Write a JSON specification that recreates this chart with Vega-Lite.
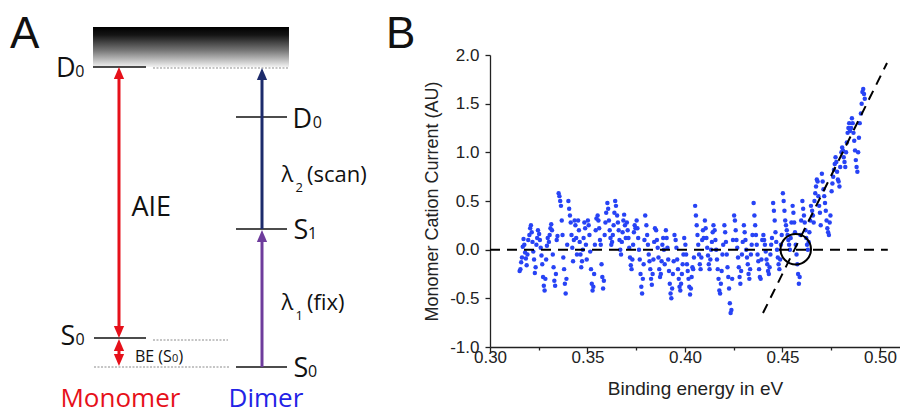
{
"$schema": "https://vega.github.io/schema/vega-lite/v6.json",
"width": 410, "height": 292,
"autosize": {"type": "none"},
"padding": {"left": 490, "top": 55, "right": 0, "bottom": 63},
"background": "white",
"config": {"view": {"stroke": null}, "axis": {"grid": false}},
"datasets": {
"scan": [
{"x":0.3152,"y":-0.22},{"x":0.3156,"y":-0.20},{"x":0.3160,"y":-0.13},{"x":0.3164,"y":-0.08},{"x":0.3168,"y":0.03},{"x":0.3172,"y":0.11},{"x":0.3176,"y":0.05},{"x":0.3180,"y":-0.03},{"x":0.3184,"y":-0.09},{"x":0.3188,"y":-0.16},{"x":0.3192,"y":-0.05},{"x":0.3196,"y":0.10},
{"x":0.3202,"y":0.15},{"x":0.3206,"y":0.22},{"x":0.3210,"y":0.25},{"x":0.3214,"y":0.18},{"x":0.3218,"y":0.08},{"x":0.3222,"y":-0.02},{"x":0.3226,"y":-0.10},{"x":0.3230,"y":-0.24},{"x":0.3234,"y":-0.18},{"x":0.3238,"y":0.05},{"x":0.3242,"y":0.12},{"x":0.3246,"y":0.20},
{"x":0.3252,"y":0.16},{"x":0.3256,"y":0.10},{"x":0.3260,"y":0.02},{"x":0.3264,"y":-0.06},{"x":0.3268,"y":-0.15},{"x":0.3272,"y":-0.28},{"x":0.3276,"y":-0.37},{"x":0.3280,"y":-0.42},{"x":0.3284,"y":-0.30},{"x":0.3288,"y":-0.10},{"x":0.3292,"y":0.04},{"x":0.3296,"y":0.12},
{"x":0.3302,"y":0.08},{"x":0.3306,"y":0.15},{"x":0.3310,"y":0.22},{"x":0.3314,"y":0.26},{"x":0.3318,"y":0.20},{"x":0.3322,"y":-0.05},{"x":0.3326,"y":-0.18},{"x":0.3330,"y":-0.32},{"x":0.3334,"y":-0.37},{"x":0.3338,"y":-0.25},{"x":0.3342,"y":0.10},{"x":0.3346,"y":0.14},
{"x":0.3352,"y":0.58},{"x":0.3356,"y":0.55},{"x":0.3360,"y":0.50},{"x":0.3364,"y":0.45},{"x":0.3368,"y":0.30},{"x":0.3372,"y":0.15},{"x":0.3376,"y":-0.08},{"x":0.3380,"y":-0.20},{"x":0.3384,"y":-0.35},{"x":0.3388,"y":-0.45},{"x":0.3392,"y":-0.30},{"x":0.3396,"y":0.05},
{"x":0.3402,"y":0.50},{"x":0.3406,"y":0.42},{"x":0.3410,"y":0.35},{"x":0.3414,"y":0.28},{"x":0.3418,"y":0.15},{"x":0.3422,"y":0.02},{"x":0.3426,"y":-0.12},{"x":0.3430,"y":0.10},{"x":0.3434,"y":0.30},{"x":0.3438,"y":0.25},{"x":0.3442,"y":0.12},{"x":0.3446,"y":-0.05},
{"x":0.3452,"y":0.30},{"x":0.3456,"y":0.20},{"x":0.3460,"y":0.08},{"x":0.3464,"y":-0.05},{"x":0.3468,"y":-0.18},{"x":0.3472,"y":-0.12},{"x":0.3476,"y":0.00},{"x":0.3480,"y":0.12},{"x":0.3484,"y":0.28},{"x":0.3488,"y":0.22},{"x":0.3492,"y":0.05},{"x":0.3496,"y":-0.10},
{"x":0.3502,"y":0.30},{"x":0.3506,"y":0.25},{"x":0.3510,"y":0.15},{"x":0.3514,"y":-0.02},{"x":0.3518,"y":-0.20},{"x":0.3522,"y":-0.35},{"x":0.3526,"y":-0.42},{"x":0.3530,"y":-0.38},{"x":0.3534,"y":-0.25},{"x":0.3538,"y":0.05},{"x":0.3542,"y":0.20},{"x":0.3546,"y":0.32},
{"x":0.3552,"y":0.35},{"x":0.3556,"y":0.30},{"x":0.3560,"y":0.22},{"x":0.3564,"y":0.10},{"x":0.3568,"y":0.05},{"x":0.3572,"y":-0.15},{"x":0.3576,"y":-0.28},{"x":0.3580,"y":-0.40},{"x":0.3584,"y":-0.32},{"x":0.3588,"y":0.15},{"x":0.3592,"y":0.28},{"x":0.3596,"y":0.38},
{"x":0.3602,"y":0.48},{"x":0.3606,"y":0.42},{"x":0.3610,"y":0.30},{"x":0.3614,"y":0.20},{"x":0.3618,"y":0.12},{"x":0.3622,"y":0.05},{"x":0.3626,"y":0.08},{"x":0.3630,"y":0.15},{"x":0.3634,"y":0.25},{"x":0.3638,"y":0.38},{"x":0.3642,"y":0.50},{"x":0.3646,"y":0.45},
{"x":0.3652,"y":0.35},{"x":0.3656,"y":0.28},{"x":0.3660,"y":0.20},{"x":0.3664,"y":0.10},{"x":0.3668,"y":0.00},{"x":0.3672,"y":-0.05},{"x":0.3676,"y":0.08},{"x":0.3680,"y":0.18},{"x":0.3684,"y":0.30},{"x":0.3688,"y":0.36},{"x":0.3692,"y":0.25},{"x":0.3696,"y":0.12},
{"x":0.3702,"y":0.28},{"x":0.3706,"y":0.20},{"x":0.3710,"y":0.12},{"x":0.3714,"y":0.02},{"x":0.3718,"y":-0.08},{"x":0.3722,"y":-0.16},{"x":0.3726,"y":-0.20},{"x":0.3730,"y":-0.10},{"x":0.3734,"y":0.05},{"x":0.3738,"y":0.18},{"x":0.3742,"y":0.25},{"x":0.3746,"y":0.22},
{"x":0.3752,"y":0.30},{"x":0.3756,"y":0.22},{"x":0.3760,"y":0.12},{"x":0.3764,"y":0.00},{"x":0.3768,"y":-0.10},{"x":0.3772,"y":-0.25},{"x":0.3776,"y":-0.38},{"x":0.3780,"y":-0.45},{"x":0.3784,"y":-0.30},{"x":0.3788,"y":-0.15},{"x":0.3792,"y":0.10},{"x":0.3796,"y":0.35},
{"x":0.3802,"y":0.25},{"x":0.3806,"y":0.15},{"x":0.3810,"y":0.05},{"x":0.3814,"y":-0.05},{"x":0.3818,"y":-0.12},{"x":0.3822,"y":-0.20},{"x":0.3826,"y":-0.30},{"x":0.3830,"y":-0.36},{"x":0.3834,"y":-0.25},{"x":0.3838,"y":-0.10},{"x":0.3842,"y":0.08},{"x":0.3846,"y":0.22},
{"x":0.3852,"y":0.20},{"x":0.3856,"y":0.10},{"x":0.3860,"y":0.02},{"x":0.3864,"y":-0.08},{"x":0.3868,"y":-0.20},{"x":0.3872,"y":-0.28},{"x":0.3876,"y":-0.25},{"x":0.3880,"y":-0.12},{"x":0.3884,"y":0.05},{"x":0.3888,"y":0.12},{"x":0.3892,"y":0.00},{"x":0.3896,"y":-0.15},
{"x":0.3902,"y":0.20},{"x":0.3906,"y":0.12},{"x":0.3910,"y":0.02},{"x":0.3914,"y":-0.10},{"x":0.3918,"y":-0.22},{"x":0.3922,"y":-0.35},{"x":0.3926,"y":-0.45},{"x":0.3930,"y":-0.50},{"x":0.3934,"y":-0.40},{"x":0.3938,"y":-0.25},{"x":0.3942,"y":-0.12},{"x":0.3946,"y":0.15},
{"x":0.3952,"y":0.10},{"x":0.3956,"y":0.02},{"x":0.3960,"y":-0.10},{"x":0.3964,"y":-0.20},{"x":0.3968,"y":-0.30},{"x":0.3972,"y":-0.38},{"x":0.3976,"y":-0.42},{"x":0.3980,"y":-0.35},{"x":0.3984,"y":-0.25},{"x":0.3988,"y":-0.15},{"x":0.3992,"y":-0.05},{"x":0.3996,"y":0.12},
{"x":0.4002,"y":0.05},{"x":0.4006,"y":-0.05},{"x":0.4010,"y":-0.15},{"x":0.4014,"y":-0.22},{"x":0.4018,"y":-0.30},{"x":0.4022,"y":-0.38},{"x":0.4026,"y":-0.46},{"x":0.4030,"y":-0.40},{"x":0.4034,"y":-0.28},{"x":0.4038,"y":-0.18},{"x":0.4042,"y":-0.20},{"x":0.4046,"y":-0.08},
{"x":0.4052,"y":0.45},{"x":0.4056,"y":0.35},{"x":0.4060,"y":0.25},{"x":0.4064,"y":0.15},{"x":0.4068,"y":0.05},{"x":0.4072,"y":-0.05},{"x":0.4076,"y":-0.15},{"x":0.4080,"y":-0.20},{"x":0.4084,"y":-0.08},{"x":0.4088,"y":0.10},{"x":0.4092,"y":0.20},{"x":0.4096,"y":0.12},
{"x":0.4102,"y":0.30},{"x":0.4106,"y":0.22},{"x":0.4110,"y":0.12},{"x":0.4114,"y":0.02},{"x":0.4118,"y":-0.06},{"x":0.4122,"y":-0.15},{"x":0.4126,"y":-0.20},{"x":0.4130,"y":-0.10},{"x":0.4134,"y":0.00},{"x":0.4138,"y":0.08},{"x":0.4142,"y":0.18},{"x":0.4146,"y":0.25},
{"x":0.4152,"y":0.20},{"x":0.4156,"y":0.10},{"x":0.4160,"y":0.00},{"x":0.4164,"y":-0.10},{"x":0.4168,"y":-0.20},{"x":0.4172,"y":-0.30},{"x":0.4176,"y":-0.42},{"x":0.4180,"y":-0.45},{"x":0.4184,"y":-0.35},{"x":0.4188,"y":-0.22},{"x":0.4192,"y":-0.05},{"x":0.4196,"y":0.05},
{"x":0.4202,"y":0.25},{"x":0.4206,"y":0.18},{"x":0.4210,"y":0.08},{"x":0.4214,"y":-0.05},{"x":0.4218,"y":-0.18},{"x":0.4222,"y":-0.28},{"x":0.4226,"y":-0.40},{"x":0.4230,"y":-0.55},{"x":0.4234,"y":-0.65},{"x":0.4238,"y":-0.62},{"x":0.4242,"y":-0.30},{"x":0.4246,"y":0.10},
{"x":0.4252,"y":0.35},{"x":0.4256,"y":0.30},{"x":0.4260,"y":0.20},{"x":0.4264,"y":0.10},{"x":0.4268,"y":0.02},{"x":0.4272,"y":-0.08},{"x":0.4276,"y":-0.18},{"x":0.4280,"y":-0.28},{"x":0.4284,"y":-0.35},{"x":0.4288,"y":-0.22},{"x":0.4292,"y":-0.05},{"x":0.4296,"y":0.08},
{"x":0.4302,"y":0.25},{"x":0.4306,"y":0.18},{"x":0.4310,"y":0.10},{"x":0.4314,"y":0.00},{"x":0.4318,"y":-0.08},{"x":0.4322,"y":-0.15},{"x":0.4326,"y":-0.25},{"x":0.4330,"y":-0.30},{"x":0.4334,"y":-0.20},{"x":0.4338,"y":-0.05},{"x":0.4342,"y":0.05},{"x":0.4346,"y":0.15},
{"x":0.4352,"y":0.48},{"x":0.4356,"y":0.35},{"x":0.4360,"y":0.25},{"x":0.4364,"y":0.15},{"x":0.4368,"y":0.05},{"x":0.4372,"y":-0.05},{"x":0.4376,"y":-0.12},{"x":0.4380,"y":-0.20},{"x":0.4384,"y":-0.28},{"x":0.4388,"y":-0.30},{"x":0.4392,"y":-0.10},{"x":0.4396,"y":0.10},
{"x":0.4402,"y":0.15},{"x":0.4406,"y":0.10},{"x":0.4410,"y":0.05},{"x":0.4414,"y":-0.02},{"x":0.4418,"y":-0.10},{"x":0.4422,"y":-0.15},{"x":0.4426,"y":-0.22},{"x":0.4430,"y":-0.25},{"x":0.4434,"y":-0.18},{"x":0.4438,"y":-0.05},{"x":0.4442,"y":0.05},{"x":0.4446,"y":0.12},
{"x":0.4452,"y":0.48},{"x":0.4456,"y":0.40},{"x":0.4460,"y":0.30},{"x":0.4464,"y":0.18},{"x":0.4468,"y":0.08},{"x":0.4472,"y":0.00},{"x":0.4476,"y":-0.08},{"x":0.4480,"y":-0.15},{"x":0.4484,"y":-0.20},{"x":0.4488,"y":-0.10},{"x":0.4492,"y":0.05},{"x":0.4496,"y":0.15},
{"x":0.4502,"y":0.58},{"x":0.4506,"y":0.50},{"x":0.4510,"y":0.40},{"x":0.4514,"y":0.30},{"x":0.4518,"y":0.25},{"x":0.4522,"y":0.20},{"x":0.4526,"y":0.15},{"x":0.4530,"y":0.10},{"x":0.4534,"y":0.05},{"x":0.4538,"y":0.00},{"x":0.4542,"y":0.12},{"x":0.4546,"y":0.28},
{"x":0.4552,"y":0.45},{"x":0.4556,"y":0.38},{"x":0.4560,"y":0.28},{"x":0.4564,"y":0.18},{"x":0.4568,"y":0.05},{"x":0.4572,"y":-0.05},{"x":0.4576,"y":-0.15},{"x":0.4580,"y":-0.25},{"x":0.4584,"y":-0.35},{"x":0.4588,"y":-0.28},{"x":0.4592,"y":0.15},{"x":0.4596,"y":0.30},
{"x":0.4602,"y":0.50},{"x":0.4606,"y":0.42},{"x":0.4610,"y":0.35},{"x":0.4614,"y":0.28},{"x":0.4618,"y":0.20},{"x":0.4622,"y":0.12},{"x":0.4626,"y":0.05},{"x":0.4630,"y":0.00},{"x":0.4634,"y":0.08},{"x":0.4638,"y":0.18},{"x":0.4642,"y":0.30},{"x":0.4646,"y":0.45},
{"x":0.4652,"y":0.40},{"x":0.4656,"y":0.35},{"x":0.4660,"y":0.28},{"x":0.4664,"y":0.50},{"x":0.4668,"y":0.58},{"x":0.4672,"y":0.65},{"x":0.4676,"y":0.72},{"x":0.4680,"y":0.70},{"x":0.4684,"y":0.55},{"x":0.4688,"y":0.45},{"x":0.4692,"y":0.38},{"x":0.4696,"y":0.25},
{"x":0.4702,"y":0.78},{"x":0.4706,"y":0.70},{"x":0.4710,"y":0.62},{"x":0.4714,"y":0.55},{"x":0.4718,"y":0.48},{"x":0.4722,"y":0.40},{"x":0.4726,"y":0.30},{"x":0.4730,"y":0.22},{"x":0.4734,"y":0.18},{"x":0.4738,"y":0.15},{"x":0.4742,"y":0.28},{"x":0.4746,"y":0.35},
{"x":0.4752,"y":0.60},{"x":0.4756,"y":0.68},{"x":0.4760,"y":0.75},{"x":0.4764,"y":0.82},{"x":0.4768,"y":0.88},{"x":0.4772,"y":0.95},{"x":0.4776,"y":0.90},{"x":0.4780,"y":0.80},{"x":0.4784,"y":0.72},{"x":0.4788,"y":0.70},{"x":0.4792,"y":0.65},{"x":0.4796,"y":0.85},
{"x":0.4802,"y":1.00},{"x":0.4806,"y":1.05},{"x":0.4810,"y":1.02},{"x":0.4814,"y":0.95},{"x":0.4818,"y":0.90},{"x":0.4822,"y":0.85},{"x":0.4826,"y":1.00},{"x":0.4830,"y":1.10},{"x":0.4834,"y":1.20},{"x":0.4838,"y":1.25},{"x":0.4842,"y":1.30},{"x":0.4846,"y":1.22},
{"x":0.4852,"y":1.25},{"x":0.4856,"y":1.35},{"x":0.4860,"y":1.30},{"x":0.4864,"y":1.20},{"x":0.4868,"y":1.12},{"x":0.4872,"y":1.02},{"x":0.4876,"y":0.92},{"x":0.4880,"y":0.85},{"x":0.4884,"y":0.80},{"x":0.4888,"y":1.00},{"x":0.4892,"y":1.15},{"x":0.4896,"y":1.30},
{"x":0.4902,"y":1.40},{"x":0.4906,"y":1.50},{"x":0.4910,"y":1.62},{"x":0.4914,"y":1.65},{"x":0.4918,"y":1.60},{"x":0.4922,"y":1.55}
],
"guides": [{"x":0.300,"y":0,"x2":0.504,"y2":0},{"x":0.440,"y":-0.651,"x2":0.5036,"y2":1.918}],
"marker": [{"x":0.4568,"y":0.004}],
"band": [{"x":23.85,"x2":74.10,"y":11.333,"y2":10.0}],
"levels": [
{"x":23.85,"x2":37.44,"y":10.0},{"x":24.10,"x2":37.44,"y":0.967},
{"x":60.51,"x2":73.59,"y":0.0},{"x":60.51,"x2":73.59,"y":4.6},{"x":60.51,"x2":73.59,"y":8.333}
],
"dotted": [
{"x":39.23,"x2":74.10,"y":9.967},{"x":39.23,"x2":58.46,"y":0.9},{"x":24.10,"x2":58.72,"y":0.0}
],
"shafts": [
{"arrow":"monomer","x":30.51,"y":1.2,"y2":9.75},
{"arrow":"monomer","x":30.51,"y":0.25,"y2":0.72},
{"arrow":"fix","x":67.18,"y":0.0,"y2":4.35},
{"arrow":"scan","x":67.18,"y":4.6,"y2":9.72}
],
"heads": [
{"arrow":"monomer","dir":"up","x":30.51,"y":10.0},
{"arrow":"monomer","dir":"down","x":30.51,"y":0.967},
{"arrow":"monomer","dir":"up","x":30.51,"y":0.93},
{"arrow":"monomer","dir":"down","x":30.51,"y":0.033},
{"arrow":"fix","dir":"up","x":67.18,"y":4.567},
{"arrow":"scan","dir":"up","x":67.18,"y":9.967}
],
"labels": [
{"text":"A","x":2.56,"y":10.633,"kind":"panel"},
{"text":"B","x":98.97,"y":10.633,"kind":"panel"},
{"text":"D","x":14.36,"y":9.667,"kind":"big"},
{"text":"S","x":15.49,"y":0.733,"kind":"big"},
{"text":"D","x":75.03,"y":7.967,"kind":"big"},
{"text":"S","x":75.23,"y":4.267,"kind":"big"},
{"text":"S","x":75.23,"y":-0.333,"kind":"big"},
{"text":"AIE","x":33.72,"y":5.033,"kind":"big"},
{"text":"0","x":19.3,"y":9.667,"kind":"small"},
{"text":"0","x":19.35,"y":0.733,"kind":"small"},
{"text":"0","x":80.2,"y":7.967,"kind":"small"},
{"text":"1","x":78.95,"y":4.267,"kind":"small"},
{"text":"0","x":79.0,"y":-0.333,"kind":"small"},
{"text":"BE (S","x":34.6,"y":0.167,"kind":"small"},
{"text":"0","x":44.1,"y":0.167,"kind":"tiny"},
{"text":")","x":45.8,"y":0.167,"kind":"small"},
{"text":"λ","x":72.18,"y":6.167,"kind":"medium"},
{"text":"(scan)","x":78.72,"y":6.167,"kind":"medium"},
{"text":"λ","x":72.18,"y":1.9,"kind":"medium"},
{"text":"(fix)","x":78.72,"y":1.9,"kind":"medium"},
{"text":"2","x":75.77,"y":5.833,"kind":"sub"},
{"text":"1","x":75.77,"y":1.567,"kind":"sub"},
{"text":"Monomer","x":15.5,"y":-1.333,"kind":"monomer"},
{"text":"Dimer","x":58.6,"y":-1.333,"kind":"dimer"}
]
},
"layer": [
{"layer": [
 {"data": {"name": "scan"},
  "mark": {"type": "circle", "size": 20, "color": "#2743f5", "opacity": 1},
  "encoding": {
   "x": {"field": "x", "type": "quantitative", "scale": {"domain": [0.3, 0.51026], "nice": false, "zero": false},
     "axis": {"title": "Binding energy in eV", "values": [0.3,0.325,0.35,0.375,0.4,0.425,0.45,0.475,0.5],
       "labelExpr": "abs(datum.value*20-round(datum.value*20))<0.001 ? format(datum.value,'.2f') : ''",
       "tickSize": {"condition": {"test": "abs(datum.value*20-round(datum.value*20))<0.001", "value": 5}, "value": 3},
       "labelOverlap": false, "labelFlush": false, "labelBound": false,
       "labelFont": "Liberation Sans", "labelFontSize": 17, "labelColor": "#222", "labelPadding": -3,
       "titleFont": "Liberation Sans", "titleFontSize": 19, "titleFontWeight": "normal", "titleColor": "#222", "titlePadding": 14,
       "domainColor": "#222", "domainWidth": 1.3, "tickColor": "#222", "tickWidth": 1.3}},
   "y": {"field": "y", "type": "quantitative", "scale": {"domain": [-1, 2], "nice": false, "zero": false},
     "axis": {"title": "Monomer Cation Current (AU)", "values": [-1,-0.75,-0.5,-0.25,0,0.25,0.5,0.75,1,1.25,1.5,1.75,2],
       "labelExpr": "abs(datum.value*2-round(datum.value*2))<0.001 ? (datum.value < 0 ? '-' : '') + format(abs(datum.value),'.1f') : ''",
       "tickSize": {"condition": {"test": "abs(datum.value*2-round(datum.value*2))<0.001", "value": 5}, "value": 3},
       "labelOverlap": false, "labelFlush": false, "labelBound": false,
       "labelFont": "Liberation Sans", "labelFontSize": 17, "labelColor": "#222", "labelPadding": 6,
       "titleFont": "Liberation Sans", "titleFontSize": 18, "titleFontWeight": "normal", "titleColor": "#222", "titlePadding": 8,
       "domainColor": "#222", "domainWidth": 1.3, "tickColor": "#222", "tickWidth": 1.3}}
  }},
 {"data": {"name": "guides"},
  "mark": {"type": "rule", "color": "#000", "strokeWidth": 2, "strokeDash": [10, 7]},
  "encoding": {
   "x": {"field": "x", "type": "quantitative", "scale": {"domain": [0.3, 0.51026], "nice": false, "zero": false}},
   "x2": {"field": "x2"},
   "y": {"field": "y", "type": "quantitative", "scale": {"domain": [-1, 2], "nice": false, "zero": false}},
   "y2": {"field": "y2"}
  }},
 {"data": {"name": "marker"},
  "mark": {"type": "point", "shape": "circle", "size": 930, "filled": false, "color": "#000", "strokeWidth": 2, "opacity": 1},
  "encoding": {
   "x": {"field": "x", "type": "quantitative", "scale": {"domain": [0.3, 0.51026], "nice": false, "zero": false}},
   "y": {"field": "y", "type": "quantitative", "scale": {"domain": [-1, 2], "nice": false, "zero": false}}
  }}
]},
{"layer": [
 {"data": {"name": "band"},
  "mark": {"type": "rect", "fill": {"gradient": "linear", "x1": 0, "y1": 0, "x2": 0, "y2": 1, "stops": [{"offset": 0, "color": "#000000"}, {"offset": 0.2, "color": "#151515"}, {"offset": 0.6, "color": "#7a7a7a"}, {"offset": 1, "color": "#f2f2f2"}]}},
  "encoding": {
   "x": {"field": "x", "type": "quantitative", "scale": {"domain": [125.641, 230.769], "nice": false, "zero": false}, "axis": null},
   "x2": {"field": "x2"},
   "y": {"field": "y", "type": "quantitative", "scale": {"domain": [0.6667, 10.4], "nice": false, "zero": false}, "axis": null},
   "y2": {"field": "y2"}
  }},
 {"data": {"name": "levels"},
  "mark": {"type": "rule", "color": "#111", "strokeWidth": 1.6},
  "encoding": {
   "x": {"field": "x", "type": "quantitative", "scale": {"domain": [125.641, 230.769], "nice": false, "zero": false}, "axis": null},
   "x2": {"field": "x2"},
   "y": {"field": "y", "type": "quantitative", "scale": {"domain": [0.6667, 10.4], "nice": false, "zero": false}, "axis": null}
  }},
 {"data": {"name": "dotted"},
  "mark": {"type": "rule", "color": "#8a8a8a", "strokeWidth": 1, "strokeDash": [2, 1.5]},
  "encoding": {
   "x": {"field": "x", "type": "quantitative", "scale": {"domain": [125.641, 230.769], "nice": false, "zero": false}, "axis": null},
   "x2": {"field": "x2"},
   "y": {"field": "y", "type": "quantitative", "scale": {"domain": [0.6667, 10.4], "nice": false, "zero": false}, "axis": null}
  }},
 {"data": {"name": "shafts"},
  "mark": {"type": "rule", "strokeWidth": 3},
  "encoding": {
   "x": {"field": "x", "type": "quantitative", "scale": {"domain": [125.641, 230.769], "nice": false, "zero": false}, "axis": null},
   "y": {"field": "y", "type": "quantitative", "scale": {"domain": [0.6667, 10.4], "nice": false, "zero": false}, "axis": null},
   "y2": {"field": "y2"},
   "color": {"field": "arrow", "type": "nominal", "scale": {"domain": ["monomer", "fix", "scan"], "range": ["#e6101a", "#6e3c9c", "#1d2b6b"]}, "legend": null}
  }},
 {"data": {"name": "heads"},
  "mark": {"type": "point", "filled": true, "size": 130, "opacity": 1, "strokeWidth": 0},
  "encoding": {
   "x": {"field": "x", "type": "quantitative", "scale": {"domain": [125.641, 230.769], "nice": false, "zero": false}, "axis": null},
   "y": {"field": "y", "type": "quantitative", "scale": {"domain": [0.6667, 10.4], "nice": false, "zero": false}, "axis": null},
   "shape": {"field": "dir", "type": "nominal", "scale": {"domain": ["up", "down"], "range": ["M0,0L-0.9,2.1L0.9,2.1Z", "M0,0L-0.9,-2.1L0.9,-2.1Z"]}, "legend": null},
   "color": {"field": "arrow", "type": "nominal", "scale": {"domain": ["monomer", "fix", "scan"], "range": ["#e6101a", "#6e3c9c", "#1d2b6b"]}, "legend": null}
  }},
 {"data": {"name": "labels"}, "transform": [{"filter": "datum.kind === 'panel'"}],
  "mark": {"type": "text", "font": "Liberation Sans", "fontSize": 44, "align": "left", "baseline": "alphabetic", "color": "#111"},
  "encoding": {
   "x": {"field": "x", "type": "quantitative", "scale": {"domain": [125.641, 230.769], "nice": false, "zero": false}, "axis": null},
   "y": {"field": "y", "type": "quantitative", "scale": {"domain": [0.6667, 10.4], "nice": false, "zero": false}, "axis": null},
   "text": {"field": "text"}
  }},
 {"data": {"name": "labels"}, "transform": [{"filter": "datum.kind === 'big'"}],
  "mark": {"type": "text", "font": "Open Sans", "fontSize": 27, "align": "left", "baseline": "alphabetic", "color": "#111"},
  "encoding": {
   "x": {"field": "x", "type": "quantitative", "scale": {"domain": [125.641, 230.769], "nice": false, "zero": false}, "axis": null},
   "y": {"field": "y", "type": "quantitative", "scale": {"domain": [0.6667, 10.4], "nice": false, "zero": false}, "axis": null},
   "text": {"field": "text"}
  }},
 {"data": {"name": "labels"}, "transform": [{"filter": "datum.kind === 'small'"}],
  "mark": {"type": "text", "font": "Open Sans", "fontSize": 16, "align": "left", "baseline": "alphabetic", "color": "#111"},
  "encoding": {
   "x": {"field": "x", "type": "quantitative", "scale": {"domain": [125.641, 230.769], "nice": false, "zero": false}, "axis": null},
   "y": {"field": "y", "type": "quantitative", "scale": {"domain": [0.6667, 10.4], "nice": false, "zero": false}, "axis": null},
   "text": {"field": "text"}
  }},
 {"data": {"name": "labels"}, "transform": [{"filter": "datum.kind === 'tiny'"}],
  "mark": {"type": "text", "font": "Open Sans", "fontSize": 11, "align": "left", "baseline": "alphabetic", "color": "#111"},
  "encoding": {
   "x": {"field": "x", "type": "quantitative", "scale": {"domain": [125.641, 230.769], "nice": false, "zero": false}, "axis": null},
   "y": {"field": "y", "type": "quantitative", "scale": {"domain": [0.6667, 10.4], "nice": false, "zero": false}, "axis": null},
   "text": {"field": "text"}
  }},
 {"data": {"name": "labels"}, "transform": [{"filter": "datum.kind === 'medium'"}],
  "mark": {"type": "text", "font": "Open Sans", "fontSize": 22, "align": "left", "baseline": "alphabetic", "color": "#111"},
  "encoding": {
   "x": {"field": "x", "type": "quantitative", "scale": {"domain": [125.641, 230.769], "nice": false, "zero": false}, "axis": null},
   "y": {"field": "y", "type": "quantitative", "scale": {"domain": [0.6667, 10.4], "nice": false, "zero": false}, "axis": null},
   "text": {"field": "text"}
  }},
 {"data": {"name": "labels"}, "transform": [{"filter": "datum.kind === 'sub'"}],
  "mark": {"type": "text", "font": "Open Sans", "fontSize": 13, "align": "left", "baseline": "alphabetic", "color": "#111"},
  "encoding": {
   "x": {"field": "x", "type": "quantitative", "scale": {"domain": [125.641, 230.769], "nice": false, "zero": false}, "axis": null},
   "y": {"field": "y", "type": "quantitative", "scale": {"domain": [0.6667, 10.4], "nice": false, "zero": false}, "axis": null},
   "text": {"field": "text"}
  }},
 {"data": {"name": "labels"}, "transform": [{"filter": "datum.kind === 'monomer'"}],
  "mark": {"type": "text", "font": "Open Sans", "fontSize": 26, "align": "left", "baseline": "alphabetic", "color": "#e6101a"},
  "encoding": {
   "x": {"field": "x", "type": "quantitative", "scale": {"domain": [125.641, 230.769], "nice": false, "zero": false}, "axis": null},
   "y": {"field": "y", "type": "quantitative", "scale": {"domain": [0.6667, 10.4], "nice": false, "zero": false}, "axis": null},
   "text": {"field": "text"}
  }},
 {"data": {"name": "labels"}, "transform": [{"filter": "datum.kind === 'dimer'"}],
  "mark": {"type": "text", "font": "Open Sans", "fontSize": 26, "align": "left", "baseline": "alphabetic", "color": "#2323e6"},
  "encoding": {
   "x": {"field": "x", "type": "quantitative", "scale": {"domain": [125.641, 230.769], "nice": false, "zero": false}, "axis": null},
   "y": {"field": "y", "type": "quantitative", "scale": {"domain": [0.6667, 10.4], "nice": false, "zero": false}, "axis": null},
   "text": {"field": "text"}
  }}
]}
],
"resolve": {"scale": {"x": "independent", "y": "independent", "color": "independent", "shape": "independent"}}
}
